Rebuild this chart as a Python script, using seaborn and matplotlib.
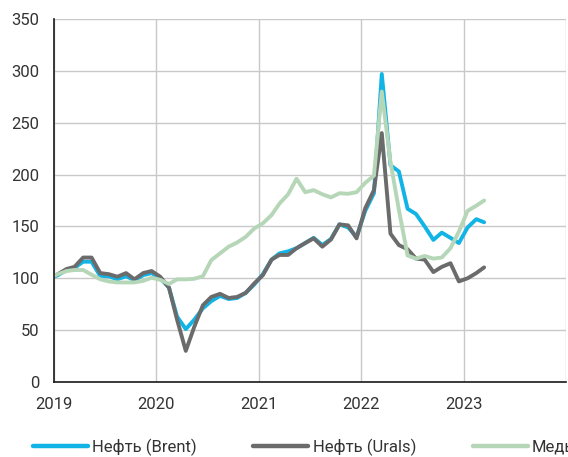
import numpy as np
import pandas as pd
import matplotlib
matplotlib.use('Agg')
import matplotlib.pyplot as plt
from matplotlib.lines import Line2D
import seaborn as sns

# Monthly index values, Dec 2018 .. Mar 2023
brent = [100, 103, 108, 110, 116, 116, 102, 102, 99, 102, 98, 103, 105,
         100, 91, 63, 51, 60, 71, 78, 83, 80, 81, 86, 94,
         104, 118, 124, 126, 129, 134, 139, 132, 138, 152, 149, 140,
         165, 182, 297, 209, 203, 167, 162, 150, 137, 144, 139, 134,
         149, 157, 154]
urals = [100, 104, 109, 111, 120, 120, 105, 104, 101.5, 105, 99, 105, 107,
         101.5, 91, 60, 30, 53, 74, 82, 85, 81, 82, 86, 95,
         103, 118, 122.5, 122.5, 129, 134, 138.5, 130.5, 137.5, 152, 151, 138.5,
         167.5, 185, 240, 143, 132, 128, 119, 118, 106, 111, 114.5, 97,
         100, 105, 110.5]
copper = [100, 104, 107, 108, 108, 103.5, 99, 97, 96, 96, 96, 97.5, 100.5,
          98.5, 94.5, 99, 99, 99.5, 102, 117.5, 124, 130.5, 134.5, 140, 148,
          153, 161, 172, 181, 196, 183, 185, 181, 178, 182, 181.5, 183,
          192, 199, 280, 212, 166, 122, 119, 121.5, 119, 120, 129, 145,
          165, 170, 175]
series_names = ['Нефть (Brent)', 'Нефть (Urals)', 'Медь']
year_labels = ['2019', '2020', '2021', '2022', '2023', '']

# points sit in the middle of each month
months = pd.date_range('2018-12-01', '2023-03-01', freq='MS') + pd.Timedelta(days=14)

df = pd.DataFrame({
    'date': np.tile(months, 3),
    'value': brent + urals + copper,
    'series': np.repeat(series_names, len(months)),
})

colors = {'Нефть (Brent)': '#12B4E6', 'Нефть (Urals)': '#6B6B6B', 'Медь': '#B6D6B8'}

sns.set_style('white')
plt.rcParams['font.family'] = ['Roboto', 'DejaVu Sans']

fig = plt.figure(figsize=(5.68, 4.57), dpi=100)
ax = fig.add_axes([54 / 568, 75 / 457, 512 / 568, 363 / 457])

sns.lineplot(data=df, x='date', y='value', hue='series', hue_order=series_names,
             palette=colors, linewidth=2.8, legend=False, ax=ax)

ax.set_xlim(pd.Timestamp('2019-01-01'), pd.Timestamp('2024-01-01'))
ax.set_ylim(0, 350)
ax.set_xticks([pd.Timestamp(f'{y}-01-01') for y in range(2019, 2025)])
ax.set_xticklabels(year_labels)
ax.set_yticks(range(0, 351, 50))
ax.set_xlabel('')
ax.set_ylabel('')

ax.grid(True, color='#C8C8C8', linewidth=1.0)
ax.set_axisbelow(True)
for s in ['top', 'right']:
    ax.spines[s].set_visible(False)
for s in ['left', 'bottom']:
    ax.spines[s].set_color('#1a1a1a')
    ax.spines[s].set_linewidth(1.2)
ax.tick_params(direction='out', length=4.5, width=1.2, color='#1a1a1a',
               labelsize=12, labelcolor='#333333', pad=6)

handles = [Line2D([], [], color=colors[n], linewidth=3.2) for n in series_names]
fig.legend(handles, series_names, loc='center left', bbox_to_anchor=(33 / 568, 10 / 457),
           ncol=3, frameon=False, handlelength=3.3, handletextpad=0.25,
           columnspacing=3.4, fontsize=12, borderpad=0, borderaxespad=0,
           labelcolor='#333333')

fig.savefig('out.png', dpi=100)
